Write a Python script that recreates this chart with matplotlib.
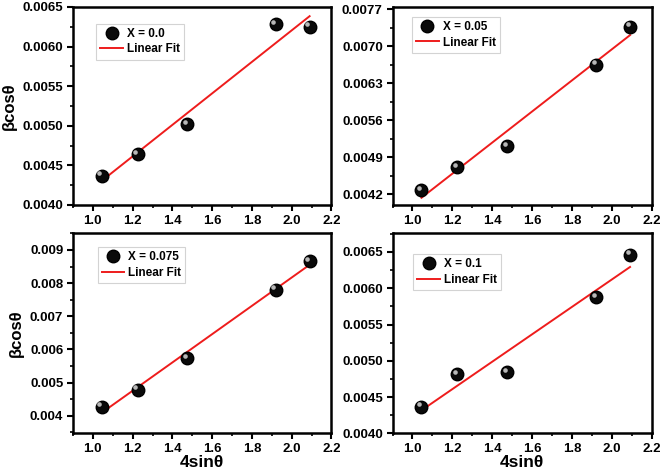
import numpy as np
import matplotlib
matplotlib.use("Agg")
import matplotlib.pyplot as plt
import matplotlib.transforms as mtransforms
from matplotlib.ticker import MultipleLocator, AutoMinorLocator

plt.rcParams['font.family'] = ['Liberation Sans', 'DejaVu Sans']
plt.rcParams['font.weight'] = 'bold'

x_vals = [1.045, 1.225, 1.475, 1.92, 2.09]
y_x000 = [0.00437, 0.00464, 0.00502, 0.00628, 0.00625]
y_x005 = [0.00428, 0.00471, 0.00511, 0.00665, 0.00737]
y_x0075 = [0.00428, 0.00479, 0.00573, 0.00780, 0.00867]
y_x010 = [0.00437, 0.00482, 0.00484, 0.00588, 0.00646]

labels = ["X = 0.0", "X = 0.05", "X = 0.075", "X = 0.1"]
series = [y_x000, y_x005, y_x0075, y_x010]
ylims = [(0.0040, 0.0065), (0.0040, 0.00774), (0.00347, 0.00951), (0.0040, 0.00676)]
yticks = [np.arange(0.0040, 0.00651, 0.0005), np.arange(0.0042, 0.00771, 0.0007),
          np.arange(0.004, 0.00901, 0.001), np.arange(0.0040, 0.00651, 0.0005)]
yfmt = ["{:.4f}", "{:.4f}", "{:.3f}", "{:.4f}"]

fig = plt.figure(figsize=(6.61, 4.72), dpi=100)
L = [0.1104, 0.5938]
W = [0.3911, 0.3926]
B = [0.5657, 0.0816]
H = [0.4195, 0.4248]
legend_anchor = [(0.09, 0.915), (0.075, 0.95), (0.095, 0.93), (0.08, 0.895)]

for i in range(4):
    r, c = divmod(i, 2)
    ax = fig.add_axes([L[c], B[r], W[c], H[r]])
    x = np.array(x_vals)
    y = np.array(series[i])
    k, b0 = np.polyfit(x, y, 1)
    xf = np.array([x.min(), x.max()])
    ax.plot(xf, k * xf + b0, color='#ee1c1c', lw=1.4, zorder=2, label='Linear Fit')
    sc, = ax.plot(x, y, 'o', ms=9, color='#0a0a0a', mec='#000000', zorder=3, label=labels[i])
    hl = mtransforms.offset_copy(ax.transData, fig=fig, x=-1.7, y=1.7, units='points')
    ax.plot(x, y, 'o', ms=3.3, color='#b8b8b8', mec='none', zorder=4, transform=hl)
    ax.set_xlim(0.9, 2.2)
    ax.set_ylim(*ylims[i])
    ax.xaxis.set_minor_locator(MultipleLocator(0.1))
    ax.set_yticks(yticks[i])
    ax.set_yticklabels([yfmt[i].format(v) for v in yticks[i]])
    ax.yaxis.set_minor_locator(AutoMinorLocator(2))
    ax.set_xticks(np.arange(1.0, 2.21, 0.2))
    ax.set_xticklabels(["{:.1f}".format(v) for v in np.arange(1.0, 2.21, 0.2)])
    for s in ax.spines.values():
        s.set_linewidth(1.8)
    ax.tick_params(which='major', direction='out', length=4, width=1.5, labelsize=9.5,
                   top=False, right=False, pad=3)
    ax.tick_params(which='minor', direction='out', length=2.5, width=1.2, top=False, right=False)
    for t in ax.get_xticklabels() + ax.get_yticklabels():
        t.set_fontweight('bold')
    if c == 0:
        ax.set_ylabel("βcosθ", fontsize=12, fontweight='bold', labelpad=4)
    if r == 1:
        ax.set_xlabel("4sinθ", fontsize=12.5, fontweight='bold', labelpad=0)
    leg = ax.legend(handles=[sc, ax.lines[0]], loc='upper left', bbox_to_anchor=legend_anchor[i],
                    fontsize=8.5, frameon=True, fancybox=False, borderpad=0.35,
                    handlelength=1.9, handletextpad=0.35, labelspacing=0.3,
                    edgecolor='#c8c8c8', borderaxespad=0.0)
    leg.get_frame().set_linewidth(0.8)
    for t in leg.get_texts():
        t.set_fontweight('bold')

fig.savefig("out.png", dpi=100)
